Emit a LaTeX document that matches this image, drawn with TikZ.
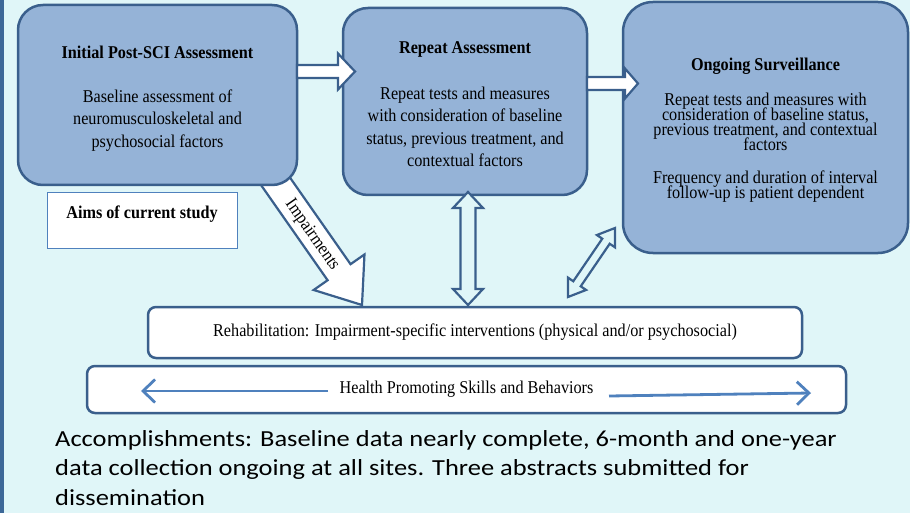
\documentclass[tikz,border=0pt]{standalone}
\usepackage{fontspec}
\usetikzlibrary{calc,arrows.meta}
\newfontfamily\dfont[FakeStretch=0.9]{Liberation Serif}
\newfontfamily\afont[FakeStretch=1.15]{Carlito}
\newcommand\tightlines{\lineskiplimit=-20pt\relax}
\definecolor{bg}{HTML}{E0F6F8}
\definecolor{boxfill}{HTML}{95B3D7}
\definecolor{boxline}{HTML}{3A5F8C}
\definecolor{lightline}{HTML}{4F81BD}
\definecolor{edgeblue}{HTML}{3D6898}
% single block arrow: [style]{start}{tip}{shaft half}{head half}{head length}
\newcommand\blkarrow[6][]{%
  \coordinate (tmpH) at ($(#3)!#6!(#2)$);
  \draw[#1] ($(#2)!#4!90:(#3)$) -- ($(tmpH)!#4!90:(#3)$) -- ($(tmpH)!#5!90:(#3)$) -- (#3)
    -- ($(tmpH)!#5!-90:(#3)$) -- ($(tmpH)!#4!-90:(#3)$) -- ($(#2)!#4!-90:(#3)$) -- cycle;}
% double block arrow
\newcommand\dblarrow[6][]{%
  \coordinate (tmpP) at ($(#2)!#6!(#3)$);
  \coordinate (tmpQ) at ($(#3)!#6!(#2)$);
  \draw[#1] (#2) -- ($(tmpP)!#5!90:(#3)$) -- ($(tmpP)!#4!90:(#3)$) -- ($(tmpQ)!#4!-90:(#2)$)
    -- ($(tmpQ)!#5!-90:(#2)$) -- (#3) -- ($(tmpQ)!#5!90:(#2)$) -- ($(tmpQ)!#4!90:(#2)$)
    -- ($(tmpP)!#4!-90:(#3)$) -- ($(tmpP)!#5!-90:(#3)$) -- cycle;}
\begin{document}
\begin{tikzpicture}[x=1pt,y=-1pt,
  bigbox/.style={draw=boxline, line width=2.5pt, fill=boxfill, rounded corners=25pt,
    inner sep=0pt, align=center, font=\dfont\fontsize{18}{22.5}\selectfont\tightlines},
  barbox/.style={draw=boxline, line width=2.5pt, fill=white, rounded corners=8pt,
    inner sep=0pt, font=\dfont\fontsize{18}{22}\selectfont},
  whitearrow/.style={draw=boxline, line width=2.2pt, fill=white, line join=miter},
  cyanarrow/.style={draw=boxline, line width=2.2pt, fill=bg, line join=miter},
  thinarrow/.style={draw=lightline, line width=2.8pt, -{Straight Barb[length=12pt,width=23pt]}},
  lbl/.style={font=\dfont\fontsize{18}{22}\selectfont, inner sep=0pt}]
\useasboundingbox (0,0) rectangle (910,513);
\fill[bg] (0,0) rectangle (910,513);
\fill[edgeblue] (0,0) rectangle (4,513);

% Impairments arrow (behind box 1)
\coordinate (impS) at (262,162);
\coordinate (impT) at (362,305);
\blkarrow[whitearrow]{impS}{impT}{14pt}{31pt}{40pt}
\node[lbl, rotate=-55] (imp) at (312,235) {Impairments};

% main boxes
\node[bigbox, minimum width=279pt, minimum height=180pt] (b1) at (157.5,95)
  {\rule{0pt}{20pt}\textbf{Initial Post-SCI Assessment}\\[21pt]
   Baseline assessment of\\ neuromusculoskeletal and\\ psychosocial factors};
\node[bigbox, minimum width=244pt, minimum height=187pt] (b2) at (465,101.5)
  {\rule{0pt}{18pt}\textbf{Repeat Assessment}\\[23pt]
   Repeat tests and measures\\ with consideration of baseline\\ status, previous treatment, and\\ contextual factors};
\node[bigbox, rounded corners=30pt, minimum width=285pt, minimum height=251pt,
  font=\dfont\fontsize{18}{15}\selectfont\tightlines] (b3) at (765.5,127.5)
  {\rule{0pt}{18pt}\textbf{Ongoing Surveillance}\\[20pt]
   Repeat tests and measures with\\ consideration of baseline status,\\ previous treatment, and contextual\\ factors\\[18pt]
   Frequency and duration of interval\\ follow-up is patient dependent};

\node[draw=lightline, line width=1pt, fill=white, minimum width=190pt, minimum height=55pt,
  inner sep=0pt, text depth=16pt, font=\dfont\fontsize{18}{22}\selectfont\bfseries] (aims) at (142,220.5)
  {Aims of current study};

% arrows between boxes
\coordinate (a12s) at (297,71.5);
\coordinate (a12t) at (355,71.5);
\blkarrow[whitearrow]{a12s}{a12t}{6.5pt}{18pt}{17pt}
\coordinate (a23s) at (587,83.5);
\coordinate (a23t) at (638,83.5);
\blkarrow[whitearrow]{a23s}{a23t}{6.5pt}{15pt}{13pt}

% bottom boxes
\node[barbox, minimum width=654pt, minimum height=51pt] (rehab) at (475,332.5)
  {Rehabilitation: Impairment-specific interventions (physical and/or psychosocial)};
\node[barbox, minimum width=759pt, minimum height=47pt] (health) at (466.5,389.5)
  {Health Promoting Skills and Behaviors};

% double arrows
\coordinate (v1) at (468,192);
\coordinate (v2) at (468,305);
\dblarrow[cyanarrow]{v1}{v2}{7.5pt}{15pt}{16pt}
\coordinate (d1) at (568,297);
\coordinate (d2) at (615,228);
\dblarrow[cyanarrow]{d1}{d2}{4.5pt}{11pt}{16pt}

% health arrows
\coordinate (hl1) at (328,391);
\coordinate (hl2) at (141,391);
\coordinate (hr1) at (609,396);
\coordinate (hr2) at (811,393);
\draw[thinarrow] (hl1) -- (hl2);
\draw[thinarrow] (hr1) -- (hr2);

% accomplishments
\node[anchor=north west, inner sep=0pt, align=left,
  font=\afont\fontsize{23}{29.5}\selectfont] (acc) at (55,430)
  {Accomplishments: Baseline data nearly complete, 6-month and one-year\\
   data collection ongoing at all sites. Three abstracts submitted for\\
   dissemination};
\end{tikzpicture}
\end{document}
